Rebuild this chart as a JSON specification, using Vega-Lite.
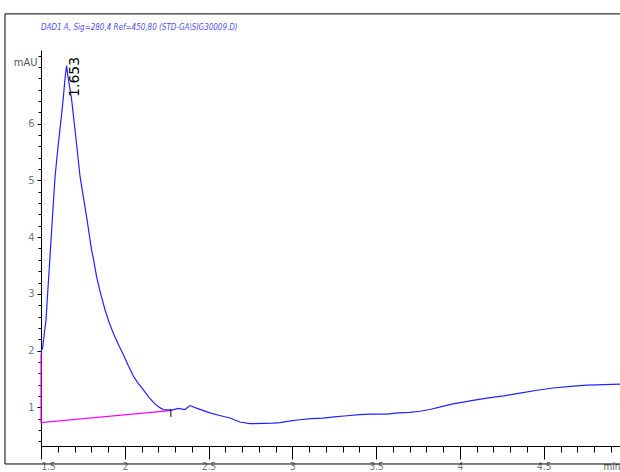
{
  "$schema": "https://vega.github.io/schema/vega-lite/v6.json",
  "width": 579,
  "height": 396,
  "autosize": {"type": "none"},
  "padding": {"left": 41, "top": 50, "right": 0, "bottom": 26},
  "background": "white",
  "config": {
    "view": {"stroke": null},
    "axis": {
      "grid": false,
      "domainColor": "#000000",
      "domainWidth": 1,
      "tickColor": "#000000",
      "tickWidth": 1,
      "labelColor": "#777777",
      "labelFont": "Liberation Sans Narrow, DejaVu Sans Condensed, sans-serif",
      "labelFontSize": 11,
      "titleFont": "Liberation Sans Narrow, DejaVu Sans Condensed, sans-serif",
      "titleFontSize": 11,
      "titleFontWeight": "normal",
      "titleColor": "#555555"
    }
  },
  "title": {
    "text": "DAD1 A, Sig=280,4 Ref=450,80 (STD-GA\\SIG30009.D)",
    "anchor": "start",
    "frame": "group",
    "offset": -19,
    "font": "Liberation Sans Narrow, DejaVu Sans Condensed, sans-serif",
    "fontStyle": "italic",
    "fontWeight": "normal",
    "fontSize": 8,
    "color": "#5050f0"
  },
  "datasets": {
    "signal": [
      {"t": 1.500, "v": 1.98}, {"t": 1.510, "v": 2.05}, {"t": 1.520, "v": 2.31}, {"t": 1.530, "v": 2.54},
      {"t": 1.540, "v": 3.02}, {"t": 1.550, "v": 3.48}, {"t": 1.570, "v": 4.43}, {"t": 1.584, "v": 5.07},
      {"t": 1.600, "v": 5.55}, {"t": 1.613, "v": 5.90}, {"t": 1.631, "v": 6.39}, {"t": 1.645, "v": 6.85},
      {"t": 1.653, "v": 7.02}, {"t": 1.660, "v": 6.85}, {"t": 1.683, "v": 6.42}, {"t": 1.709, "v": 5.73},
      {"t": 1.733, "v": 5.07}, {"t": 1.773, "v": 4.34}, {"t": 1.802, "v": 3.77}, {"t": 1.812, "v": 3.63},
      {"t": 1.832, "v": 3.30}, {"t": 1.856, "v": 3.00}, {"t": 1.882, "v": 2.72}, {"t": 1.906, "v": 2.50},
      {"t": 1.931, "v": 2.31}, {"t": 1.960, "v": 2.12}, {"t": 1.991, "v": 1.93}, {"t": 2.020, "v": 1.74},
      {"t": 2.051, "v": 1.55}, {"t": 2.080, "v": 1.42}, {"t": 2.110, "v": 1.31}, {"t": 2.145, "v": 1.17},
      {"t": 2.180, "v": 1.06}, {"t": 2.205, "v": 1.00}, {"t": 2.230, "v": 0.96}, {"t": 2.280, "v": 0.95},
      {"t": 2.319, "v": 0.98}, {"t": 2.359, "v": 0.96}, {"t": 2.389, "v": 1.03}, {"t": 2.431, "v": 0.98},
      {"t": 2.470, "v": 0.94}, {"t": 2.508, "v": 0.90}, {"t": 2.560, "v": 0.86}, {"t": 2.628, "v": 0.81},
      {"t": 2.660, "v": 0.77}, {"t": 2.687, "v": 0.74}, {"t": 2.747, "v": 0.71}, {"t": 2.884, "v": 0.72},
      {"t": 2.926, "v": 0.73}, {"t": 2.990, "v": 0.76}, {"t": 3.045, "v": 0.78}, {"t": 3.110, "v": 0.80},
      {"t": 3.183, "v": 0.81}, {"t": 3.250, "v": 0.83}, {"t": 3.326, "v": 0.85}, {"t": 3.400, "v": 0.87},
      {"t": 3.463, "v": 0.88}, {"t": 3.564, "v": 0.88}, {"t": 3.630, "v": 0.90}, {"t": 3.702, "v": 0.91},
      {"t": 3.760, "v": 0.93}, {"t": 3.821, "v": 0.96}, {"t": 3.890, "v": 1.01}, {"t": 3.958, "v": 1.06},
      {"t": 4.020, "v": 1.09}, {"t": 4.078, "v": 1.12}, {"t": 4.161, "v": 1.16}, {"t": 4.260, "v": 1.20},
      {"t": 4.358, "v": 1.25}, {"t": 4.460, "v": 1.30}, {"t": 4.555, "v": 1.34}, {"t": 4.660, "v": 1.37},
      {"t": 4.758, "v": 1.39}, {"t": 4.860, "v": 1.40}, {"t": 4.960, "v": 1.41}
    ],
    "baseline": [
      {"i": 0, "t": 1.5, "v": 1.95},
      {"i": 1, "t": 1.5, "v": 0.73},
      {"i": 2, "t": 2.27, "v": 0.94}
    ],
    "peaks": [{"t": 1.653, "v": 7.02, "label": "1.653"}],
    "droplines": [{"t": 2.275, "v": 0.97, "v2": 0.83}],
    "frame": [{"x1": 1.285, "x2": 5.3, "y1": 7.937, "y2": 0.0}]
  },
  "resolve": {"axis": {"x": "independent", "y": "independent"}},
  "layer": [
    {
      "data": {"name": "frame"},
      "mark": {"type": "rect", "fill": null, "stroke": "#000000", "strokeWidth": 1, "clip": false},
      "encoding": {
        "x": {"field": "x1", "type": "quantitative", "scale": {"domain": [1.5, 4.955], "nice": false, "zero": false}, "axis": null},
        "x2": {"field": "x2"},
        "y": {"field": "y1", "type": "quantitative", "scale": {"domain": [0.317, 7.3], "nice": false, "zero": false}, "axis": null},
        "y2": {"field": "y2"}
      }
    },
    {
      "data": {"name": "baseline"},
      "mark": {"type": "line", "color": "#ff00ff", "strokeWidth": 1.2},
      "encoding": {
        "x": {"field": "t", "type": "quantitative", "scale": {"domain": [1.5, 4.955], "nice": false, "zero": false},
          "axis": {"orient": "bottom", "values": [1.6, 1.7, 1.8, 1.9, 2.1, 2.2, 2.3, 2.4, 2.6, 2.7, 2.8, 2.9, 3.1, 3.2, 3.3, 3.4, 3.6, 3.7, 3.8, 3.9, 4.1, 4.2, 4.3, 4.4, 4.6, 4.7, 4.8, 4.9], "labels": false, "domain": false, "tickSize": 6, "title": null}},
        "y": {"field": "v", "type": "quantitative", "scale": {"domain": [0.317, 7.3], "nice": false, "zero": false},
          "axis": {"orient": "left", "values": [0.4, 0.6, 0.8, 1.2, 1.4, 1.6, 1.8, 2.2, 2.4, 2.6, 2.8, 3.2, 3.4, 3.6, 3.8, 4.2, 4.4, 4.6, 4.8, 5.2, 5.4, 5.6, 5.8, 6.2, 6.4, 6.6, 6.8, 7.0, 7.2], "labels": false, "domain": false, "tickSize": 3, "title": null}},
        "order": {"field": "i", "type": "quantitative"}
      }
    },
    {
      "data": {"name": "signal"},
      "mark": {"type": "line", "color": "#2222ff", "strokeWidth": 1.2},
      "encoding": {
        "x": {"field": "t", "type": "quantitative", "scale": {"domain": [1.5, 4.955], "nice": false, "zero": false},
          "axis": {"orient": "bottom", "values": [1.5, 2, 2.5, 3, 3.5, 4, 4.5], "format": "~g", "tickSize": 13, "labelPadding": 2, "labelBaseline": "top", "labelFontSize": 10, "title": "min", "titleX": 562, "titleY": 15, "titleAlign": "left", "titleBaseline": "top", "titleAnchor": "start", "titleFontSize": 10}},
        "y": {"field": "v", "type": "quantitative", "scale": {"domain": [0.317, 7.3], "nice": false, "zero": false},
          "axis": {"orient": "left", "values": [1, 2, 3, 4, 5, 6], "tickSize": 4, "labelPadding": 3, "title": "mAU", "titleAngle": 0, "titleX": -4, "titleY": 12, "titleAlign": "right", "titleBaseline": "middle", "titleAnchor": "end"}}
      }
    },
    {
      "data": {"name": "droplines"},
      "mark": {"type": "rule", "color": "#000000", "strokeWidth": 1},
      "encoding": {
        "x": {"field": "t", "type": "quantitative", "scale": {"domain": [1.5, 4.955], "nice": false, "zero": false}, "axis": null},
        "y": {"field": "v", "type": "quantitative", "scale": {"domain": [0.317, 7.3], "nice": false, "zero": false}, "axis": null},
        "y2": {"field": "v2"}
      }
    },
    {
      "data": {"name": "peaks"},
      "mark": {"type": "text", "angle": 270, "align": "center", "baseline": "top", "dx": -11, "dy": 1, "font": "DejaVu Sans, sans-serif", "fontSize": 14, "color": "#000000"},
      "encoding": {
        "x": {"field": "t", "type": "quantitative", "scale": {"domain": [1.5, 4.955], "nice": false, "zero": false}, "axis": null},
        "y": {"field": "v", "type": "quantitative", "scale": {"domain": [0.317, 7.3], "nice": false, "zero": false}, "axis": null},
        "text": {"field": "label"}
      }
    }
  ]
}
